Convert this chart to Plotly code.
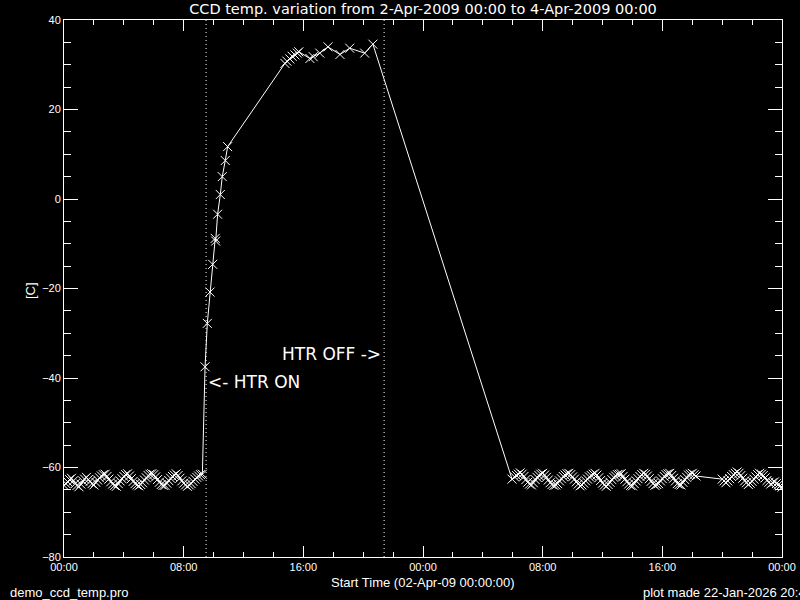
import plotly.graph_objects as go

# Hours since 2-Apr-2009 00:00, before the heater is switched on
t_before = [0.000, 0.125, 0.250, 0.375, 0.500, 0.625, 0.750, 0.875, 1.000, 1.125,
            1.250, 1.375, 1.500, 1.625, 1.750, 1.875, 2.000, 2.125, 2.250, 2.375,
            2.500, 2.625, 2.750, 2.875, 3.000, 3.125, 3.250, 3.375, 3.500, 3.625,
            3.750, 3.875, 4.000, 4.125, 4.250, 4.375, 4.500, 4.625, 4.750, 4.875,
            5.000, 5.125, 5.250, 5.375, 5.500, 5.625, 5.750, 5.875, 6.000, 6.125,
            6.250, 6.375, 6.500, 6.625, 6.750, 6.875, 7.000, 7.125, 7.250, 7.375,
            7.500, 7.625, 7.750, 7.875, 8.000, 8.125, 8.250, 8.375, 8.500, 8.625,
            8.750, 8.875, 9.000, 9.125, 9.250]
temp_before = [-64.0, -63.6, -63.2, -62.7, -62.4, -63.0, -63.6, -64.0, -64.3, -63.7,
               -63.0, -62.6, -62.2, -62.7, -63.1, -63.6, -63.9, -63.3, -62.8, -62.3,
               -61.9, -61.6, -61.5, -62.0, -62.6, -63.2, -63.7, -64.0, -64.2, -63.6,
               -63.0, -62.5, -62.0, -61.6, -61.4, -61.9, -62.5, -63.1, -63.6, -63.9,
               -64.1, -63.8, -63.4, -62.8, -62.3, -61.8, -61.5, -61.4, -61.6, -62.1,
               -62.7, -63.3, -63.8, -64.0, -64.0, -63.5, -62.9, -62.4, -62.0, -61.7,
               -61.4, -61.8, -62.4, -63.0, -63.5, -63.9, -64.2, -63.9, -63.6, -63.1,
               -62.6, -62.2, -61.9, -61.6, -61.5]

# Heater on: rise and plateau
t_heat = [9.43, 9.58, 9.76, 9.94, 10.11, 10.14, 10.27, 10.45, 10.58, 10.78,
          10.94, 14.77, 14.90, 15.10, 15.25, 15.44, 15.60, 15.70, 16.44, 16.66,
          17.10, 17.65, 18.45, 19.10, 20.10, 20.65]
temp_heat = [-37.5, -27.8, -20.8, -14.6, -8.8, -9.4, -3.4, 1.0, 5.0, 8.6,
             11.7, 30.3, 30.8, 31.3, 31.9, 32.2, 32.6, 32.9, 31.4, 31.8,
             32.6, 34.0, 32.3, 33.7, 32.6, 34.6]

# After cool-down
t_after = [29.950, 30.125, 30.250, 30.375, 30.500, 30.625, 30.750, 30.875, 31.000, 31.125,
           31.250, 31.375, 31.500, 31.625, 31.750, 31.875, 32.000, 32.125, 32.250, 32.375,
           32.500, 32.625, 32.750, 32.875, 33.000, 33.125, 33.250, 33.375, 33.500, 33.625,
           33.750, 33.875, 34.000, 34.125, 34.250, 34.375, 34.500, 34.625, 34.750, 34.875,
           35.000, 35.125, 35.250, 35.375, 35.500, 35.625, 35.750, 35.875, 36.000, 36.125,
           36.250, 36.375, 36.500, 36.625, 36.750, 36.875, 37.000, 37.125, 37.250, 37.375,
           37.500, 37.625, 37.750, 37.875, 38.000, 38.125, 38.250, 38.375, 38.500, 38.625,
           38.750, 38.875, 39.000, 39.125, 39.250, 39.375, 39.500, 39.625, 39.750, 39.875,
           40.000, 40.125, 40.250, 40.375, 40.500, 40.625, 40.750, 40.875, 41.000, 41.125,
           41.250, 41.375, 41.500, 41.625, 41.750, 41.875, 42.000, 42.125, 42.250,
           44.000, 44.125, 44.250, 44.375, 44.500, 44.625, 44.750, 44.875, 45.000, 45.125,
           45.250, 45.375, 45.500, 45.625, 45.750, 45.875, 46.000, 46.125, 46.250, 46.375,
           46.500, 46.625, 46.750, 46.875, 47.000, 47.125, 47.250, 47.375, 47.500, 47.625,
           47.750, 47.875, 48.000]
temp_after = [-62.6, -62.1, -61.8, -61.5, -61.2, -61.5, -62.0, -62.7, -63.3, -63.7,
              -63.9, -63.4, -62.7, -62.2, -61.8, -61.5, -61.3, -61.7, -62.2, -62.8,
              -63.4, -63.8, -64.0, -63.9, -63.6, -63.0, -62.5, -62.0, -61.7, -61.4,
              -61.3, -61.6, -62.1, -62.6, -63.2, -63.7, -64.1, -63.9, -63.5, -63.0,
              -62.6, -62.1, -61.8, -61.5, -61.3, -61.7, -62.3, -62.9, -63.5, -63.9,
              -64.2, -63.8, -63.3, -62.7, -62.2, -61.9, -61.6, -61.5, -61.4, -62.0,
              -62.6, -63.2, -63.7, -64.0, -64.1, -63.6, -63.0, -62.5, -62.0, -61.6,
              -61.3, -61.5, -61.9, -62.5, -63.1, -63.6, -64.0, -63.8, -63.6, -63.0,
              -62.5, -62.0, -61.6, -61.4, -61.3, -61.8, -62.4, -63.0, -63.6, -63.8,
              -63.9, -63.3, -62.7, -62.2, -61.7, -61.5, -61.3, -61.6, -61.9,
              -62.6, -63.0, -63.4, -63.0, -62.5, -62.0, -61.6, -61.3, -61.0, -61.3,
              -61.8, -62.4, -63.0, -63.4, -63.8, -63.5, -63.1, -62.6, -62.1, -61.6,
              -61.3, -61.5, -61.8, -62.3, -62.9, -63.3, -63.7, -63.4, -63.2, -63.6,
              -63.9, -64.1, -64.4]

htr_on = 9.5
htr_off = 21.4

tick_vals = [0, 8, 16, 24, 32, 40, 48]
tick_text = ['00:00', '08:00', '16:00', '00:00', '08:00', '16:00', '00:00']

FONT = 'Liberation Sans'

times = t_before + t_heat + t_after
temps = temp_before + temp_heat + temp_after

fig = go.Figure()
fig.add_trace(go.Scatter(
    x=times, y=temps, mode='lines+markers',
    line={'color': 'white', 'width': 1},
    marker={'symbol': 'x-thin-open', 'size': 9, 'color': 'white',
            'line': {'color': 'white', 'width': 1}},
    showlegend=False,
))

# Heater on / off markers
for xv in (htr_on, htr_off):
    fig.add_shape(type='line', x0=xv, x1=xv, y0=0, y1=1, xref='x', yref='paper',
                  line={'color': 'white', 'width': 1, 'dash': '1px,3px'})

big = {'family': 'DejaVu Sans', 'size': 17, 'color': 'white'}
fig.add_annotation(x=htr_on, y=-41.0, text='<- HTR ON', showarrow=False,
                   xanchor='left', yanchor='middle', xshift=0, font=big)
fig.add_annotation(x=htr_off, y=-34.6, text='HTR OFF ->', showarrow=False,
                   xanchor='right', yanchor='middle', xshift=-1, font=big)

# Text around the frame
small = {'family': FONT, 'size': 13, 'color': 'white'}
fig.add_annotation(x=0.5, y=-0.0484, xref='paper', yref='paper',
                   text='Start Time (02-Apr-09 00:00:00)', showarrow=False,
                   xanchor='center', yanchor='middle', font=small)
fig.add_annotation(x=-0.078, y=-0.0652, xref='paper', yref='paper',
                   text='demo_ccd_temp.pro', showarrow=False,
                   xanchor='left', yanchor='middle', font=small)
fig.add_annotation(x=0.8036, y=-0.0652, xref='paper', yref='paper',
                   text='plot made 22-Jan-2026 20:41', showarrow=False,
                   xanchor='left', yanchor='middle', font=small)
fig.add_annotation(x=-0.0474, y=0.497, xref='paper', yref='paper',
                   text='[C]', showarrow=False, textangle=-90,
                   xanchor='center', yanchor='middle', font=small)

axis_style = {
    'showline': True, 'linecolor': 'white', 'linewidth': 1, 'mirror': 'allticks',
    'showgrid': False, 'zeroline': False, 'automargin': False,
    'ticks': 'inside', 'tickcolor': 'white', 'tickwidth': 1,
    'tickfont': {'family': FONT, 'size': 11, 'color': 'white'},
}
fig.update_xaxes(range=[0, 48], tickvals=tick_vals, ticktext=tick_text,
                 ticklen=11, minor={'dtick': 2, 'ticks': 'inside', 'ticklen': 5,
                                    'tickcolor': 'white', 'showgrid': False},
                 **axis_style)
fig.update_yaxes(range=[-80, 40], dtick=20, ticklen=14,
                 minor={'dtick': 5, 'ticks': 'inside', 'ticklen': 7,
                        'tickcolor': 'white', 'showgrid': False},
                 **axis_style)

fig.update_layout(
    width=800, height=600,
    margin={'l': 64, 'r': 18, 't': 20, 'b': 43},
    paper_bgcolor='black', plot_bgcolor='black',
    title={'text': 'CCD temp. variation from 2-Apr-2009 00:00 to 4-Apr-2009 00:00',
           'x': 0.5, 'xref': 'paper', 'y': 1 - 9 / 600, 'yanchor': 'middle',
           'font': {'family': 'DejaVu Sans', 'size': 14.5, 'color': 'white'}},
)

# The page body has a default 8px margin; drop it so the figure fills the window
fig.write_html('out.html', config={'displayModeBar': False},
               post_script="document.body.style.margin='0';"
                           "document.body.style.background='black';")
